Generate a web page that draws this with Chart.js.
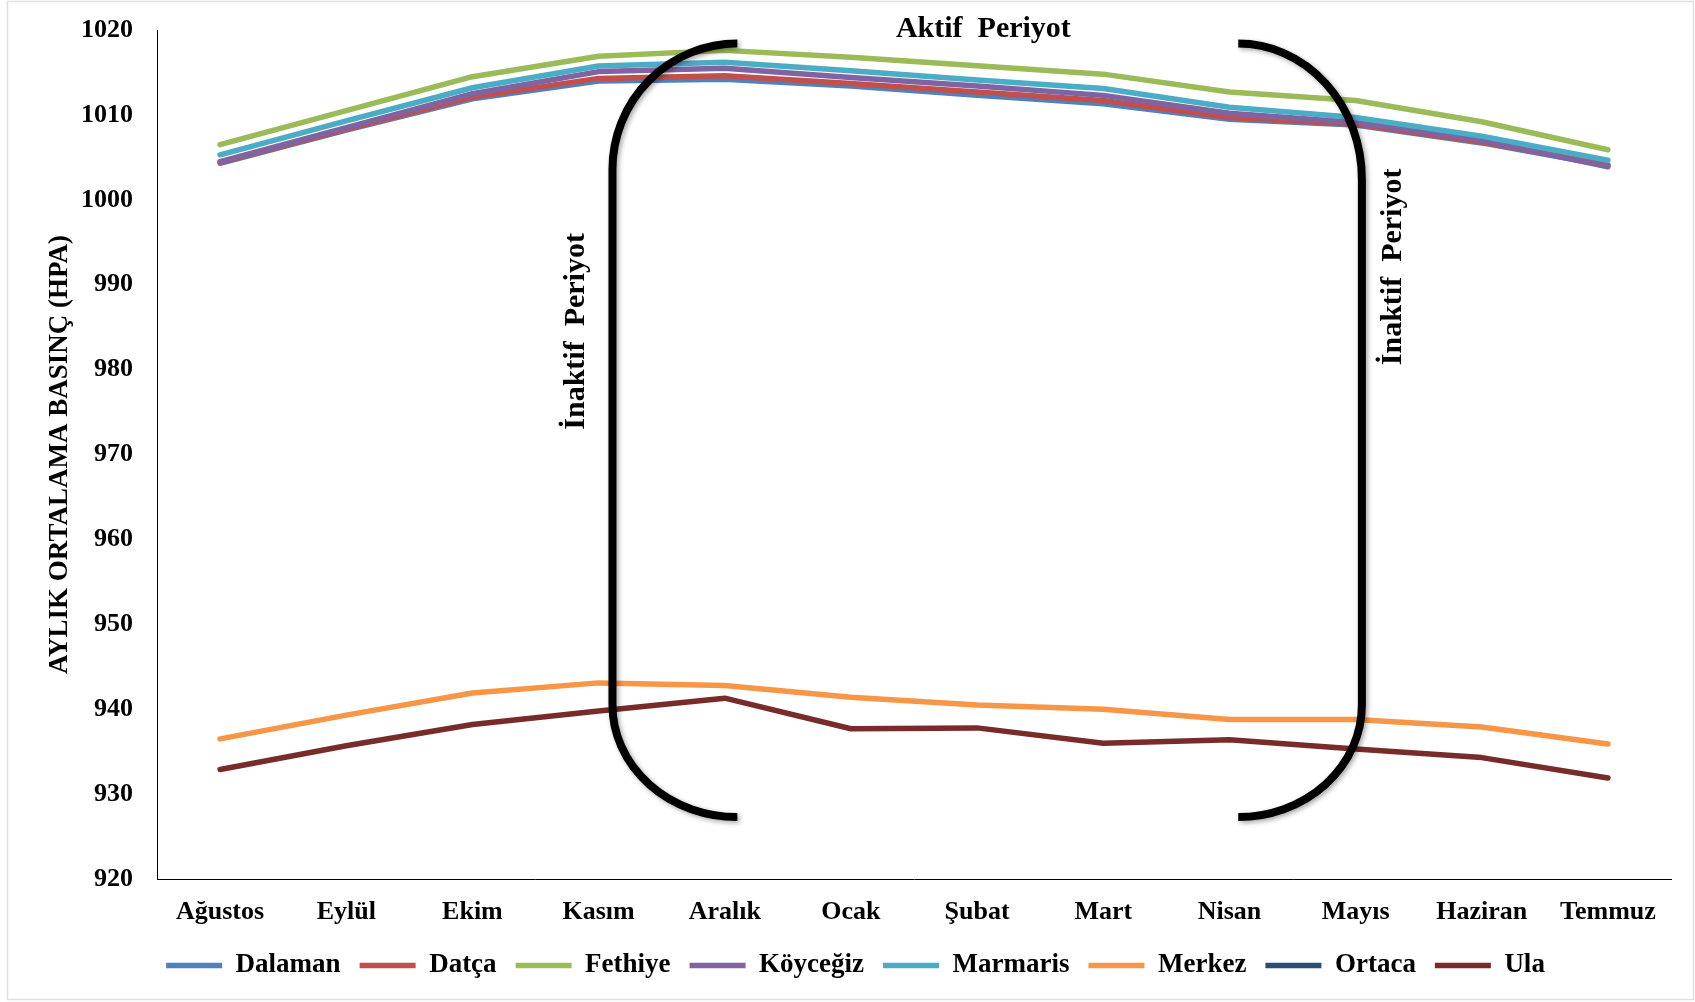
<!DOCTYPE html>
<html lang="tr">
<head>
<meta charset="utf-8">
<title>Aylık Ortalama Basınç</title>
<script src="https://cdn.jsdelivr.net/npm/chart.js@4.4.1/dist/chart.umd.min.js"></script>
<style>
  html, body { margin: 0; padding: 0; background: #ffffff; }
  #wrap { width: 1695px; height: 1002px; }
</style>
</head>
<body>
<div id="wrap"><canvas id="chart" width="1695" height="1002"></canvas></div>
<script>
// Months (August to July) and monthly mean pressure per station, hPa
const months = ['Ağustos', 'Eylül', 'Ekim', 'Kasım', 'Aralık', 'Ocak', 'Şubat', 'Mart', 'Nisan', 'Mayıs', 'Haziran', 'Temmuz'];

const dalaman  = [1004.3, 1008.2, 1011.9, 1014.0, 1014.2, 1013.4, 1012.3, 1011.3, 1009.5, 1008.8, 1006.7, 1004.0];
const datca    = [1004.4, 1008.3, 1012.1, 1014.3, 1014.6, 1013.7, 1012.7, 1011.7, 1009.7, 1008.9, 1006.8, 1004.1];
const fethiye  = [1006.5, 1010.5, 1014.5, 1016.9, 1017.6, 1016.8, 1015.8, 1014.8, 1012.7, 1011.7, 1009.2, 1005.9];
const koycegiz = [1004.5, 1008.5, 1012.5, 1015.1, 1015.5, 1014.4, 1013.4, 1012.3, 1010.2, 1009.1, 1007.0, 1003.9];
const marmaris = [1005.3, 1009.3, 1013.2, 1015.75, 1016.2, 1015.2, 1014.1, 1013.1, 1010.9, 1009.7, 1007.5, 1004.65];
const merkez   = [936.5, 939.3, 941.9, 943.1, 942.8, 941.4, 940.5, 940.0, 938.8, 938.8, 937.9, 935.9];
const ortaca   = [null, null, null, null, null, null, null, null, null, null, null, null];
const ula      = [932.9, 935.7, 938.2, 939.8, 941.3, 937.7, 937.8, 936.0, 936.4, 935.3, 934.3, 931.9];

const stationNames = ['Dalaman', 'Datça', 'Fethiye', 'Köyceğiz', 'Marmaris', 'Merkez', 'Ortaca', 'Ula'];
const stationSeries = [dalaman, datca, fethiye, koycegiz, marmaris, merkez, ortaca, ula];
const stationColors = ['#4F81BD', '#C0504D', '#9BBB59', '#8064A2', '#4BACC6', '#F79646', '#2C4D75', '#772C2A'];

// Y axis range and step
const yMin = 920, yMax = 1020, yStep = 10;

const FONT = '"Liberation Serif", "Times New Roman", serif';

// Period brackets, in category index / hPa units
const brackets = [
  { side: 'left',  spine: 3.11, tips: 4.10, top: 1018.4, bottom: 927.3, bendTop: 14.8, bendBottom: 13.2 },
  { side: 'right', spine: 9.05, tips: 8.07, top: 1018.4, bottom: 927.3, bendTop: 16.0, bendBottom: 13.2 }
];
const periodLabels = [
  { text: 'Aktif  Periyot',   at: 6.05, value: 1020.1, rotate: false },
  { text: 'İnaktif  Periyot', at: 2.82, value: 984.5,  rotate: true },
  { text: 'İnaktif  Periyot', at: 9.30, value: 992.1,  rotate: true }
];

const framePlugin = {
  id: 'frame',
  beforeDraw(chart) {
    const { ctx, width, height } = chart;
    ctx.save();
    ctx.fillStyle = '#ffffff';
    ctx.fillRect(0, 0, width, height);
    ctx.strokeStyle = '#e0e0e0';
    ctx.lineWidth = 1.5;
    ctx.strokeRect(7.5, 1.5, width - 9, height - 4);
    ctx.restore();
  }
};

const periodPlugin = {
  id: 'periods',
  afterDatasetsDraw(chart) {
    const { ctx } = chart;
    const x = chart.scales.x, y = chart.scales.y;
    ctx.save();
    ctx.strokeStyle = '#000000';
    ctx.lineWidth = 8;
    ctx.lineCap = 'butt';
    ctx.shadowColor = 'rgba(0,0,0,0.35)';
    ctx.shadowBlur = 5;
    ctx.shadowOffsetX = 2;
    ctx.shadowOffsetY = 2;
    brackets.forEach(b => {
      const xs = x.getPixelForValue(b.spine);
      const xt = x.getPixelForValue(b.tips);
      const yt = y.getPixelForValue(b.top);
      const yb = y.getPixelForValue(b.bottom);
      const ryT = y.getPixelForValue(b.top - b.bendTop) - yt;
      const ryB = yb - y.getPixelForValue(b.bottom + b.bendBottom);
      const rx = Math.abs(xt - xs);
      ctx.beginPath();
      if (b.side === 'left') {
        ctx.ellipse(xt, yt + ryT, rx, ryT, 0, -Math.PI / 2, Math.PI, true);
        ctx.lineTo(xs, yb - ryB);
        ctx.ellipse(xt, yb - ryB, rx, ryB, 0, Math.PI, Math.PI / 2, true);
      } else {
        ctx.ellipse(xt, yt + ryT, rx, ryT, 0, -Math.PI / 2, 0, false);
        ctx.lineTo(xs, yb - ryB);
        ctx.ellipse(xt, yb - ryB, rx, ryB, 0, 0, Math.PI / 2, false);
      }
      ctx.stroke();
    });
    ctx.restore();

    ctx.save();
    ctx.fillStyle = '#000000';
    ctx.font = 'bold 30px ' + FONT;
    ctx.textAlign = 'center';
    ctx.textBaseline = 'middle';
    periodLabels.forEach(p => {
      const px = x.getPixelForValue(p.at);
      const py = y.getPixelForValue(p.value);
      ctx.save();
      ctx.translate(px, py);
      if (p.rotate) ctx.rotate(-Math.PI / 2);
      ctx.fillText(p.text, 0, 0);
      ctx.restore();
    });
    ctx.restore();
  }
};

const datasets = stationNames.map((name, i) => ({
  label: name,
  data: stationSeries[i],
  borderColor: stationColors[i],
  backgroundColor: stationColors[i],
  borderWidth: 5.5,
  borderCapStyle: 'round',
  borderJoinStyle: 'round',
  pointRadius: 0,
  pointHoverRadius: 0,
  tension: 0,
  fill: false,
  spanGaps: false,
  order: stationNames.length - i
}));

new Chart(document.getElementById('chart'), {
  type: 'line',
  data: { labels: months, datasets },
  options: {
    responsive: false,
    animation: false,
    devicePixelRatio: 1,
    layout: { padding: { left: 40, right: 24, top: 30, bottom: 13 } },
    scales: {
      x: {
        offset: true,
        grid: { display: false, drawTicks: false, offset: true },
        border: { display: true, color: '#000000', width: 1 },
        ticks: {
          color: '#000000',
          font: { family: FONT, size: 26, weight: 'bold' },
          padding: 18,
          maxRotation: 0,
          autoSkip: false
        },
        afterFit(scale) {
          scale.height = 54;
          scale.paddingLeft = 0;
          scale.paddingRight = 0;
        }
      },
      y: {
        min: yMin,
        max: yMax,
        grid: { display: false, drawTicks: false },
        border: { display: true, color: '#000000', width: 1 },
        ticks: {
          stepSize: yStep,
          color: '#000000',
          font: { family: FONT, size: 26, weight: 'bold' },
          padding: 24,
          callback: (v) => String(v)
        },
        title: {
          display: true,
          text: 'AYLIK ORTALAMA BASINÇ (HPA)',
          color: '#000000',
          font: { family: FONT, size: 27, weight: 'bold' },
          padding: { top: 4, bottom: 4 }
        },
        afterFit(scale) {
          scale.width = 117;
          scale.paddingTop = 0;
          scale.paddingBottom = 0;
        }
      }
    },
    plugins: {
      legend: {
        position: 'bottom',
        labels: {
          usePointStyle: true,
          pointStyle: 'line',
          pointStyleWidth: 56,
          color: '#000000',
          font: { family: FONT, size: 27, weight: 'bold' },
          padding: 19,
          sort: (a, b) => a.datasetIndex - b.datasetIndex
        }
      },
      tooltip: { enabled: false }
    }
  },
  plugins: [framePlugin, periodPlugin]
});
</script>
</body>
</html>
